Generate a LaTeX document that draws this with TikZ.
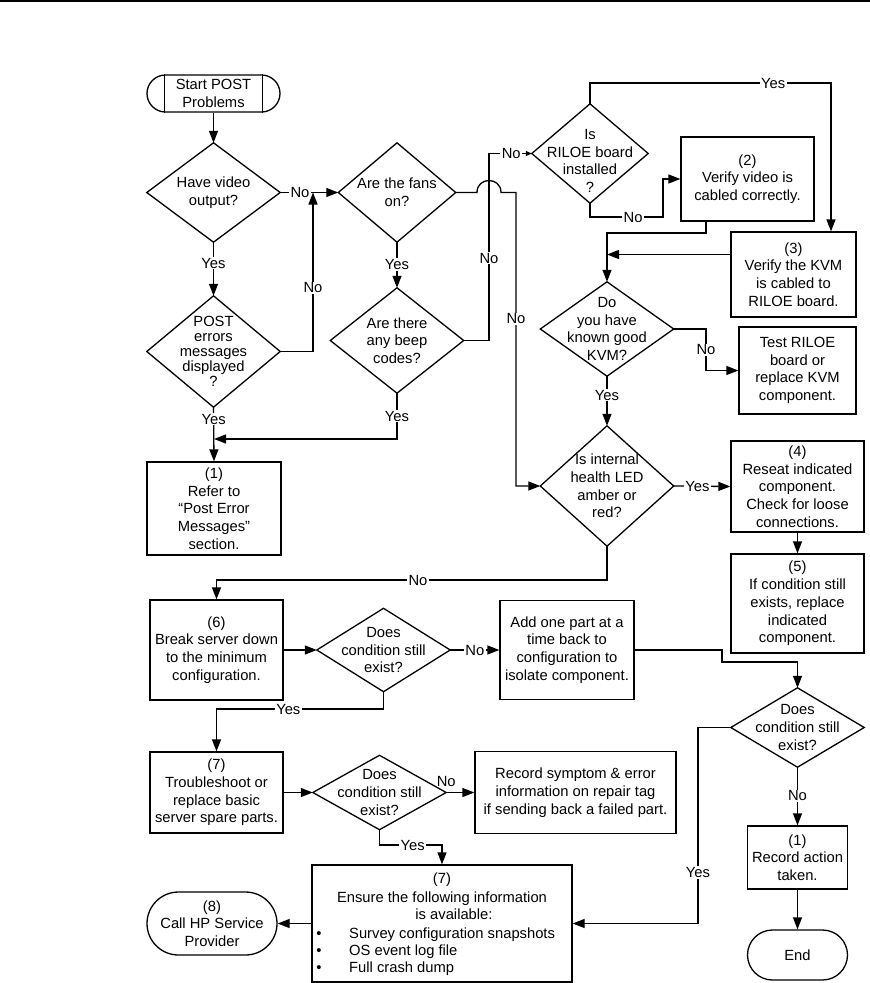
\documentclass[tikz,border=0pt]{standalone}
\usepackage{fontspec}
\setmainfont{Liberation Sans}
\usetikzlibrary{arrows.meta}
\begin{document}
\begin{tikzpicture}[x=1pt,y=-1pt,
  every node/.style={font=\fontsize{14.75}{17.7}\selectfont, inner sep=0pt, align=center},
  sz/.style 2 args={minimum width=#1pt, minimum height=#2pt},
  ln/.style={line width=1.3pt},
  arr/.style={ln, -{Triangle[length=12pt,width=9pt]}},
  arrs/.style={ln, -{Triangle[length=6pt,width=5pt]}},
  box/.style={draw, line width=1.3pt, rectangle},
  dia/.style={rectangle},
  term/.style={draw, line width=1.3pt, rectangle},
  lbl/.style={fill=white, inner xsep=1.5pt, inner ysep=1pt}
]
\useasboundingbox (0,0) rectangle (870,983);
\draw[line width=1.7pt] (0,0.85) -- (870,0.85);

% nodes
\node[term, sz={133}{37}, rounded corners=18.5pt] (start) at (213.5,93.5) {Start POST\\Problems};
\draw[ln] ([xshift=18pt]start.north west) -- ([xshift=18pt]start.south west);
\draw[ln] ([xshift=-18pt]start.north east) -- ([xshift=-18pt]start.south east);

\node[dia, sz={133}{99}] (video) at (213.5,192.5) {Have video\\output?};
\node[dia, sz={133}{111}, font=\fontsize{14.75}{15}\selectfont] (post) at (213.5,351.5) {POST\\errors\\messages\\displayed\\?};
\node[box, sz={134}{93}] (b1) at (214,508.5) {(1)\\Refer to\\“Post Error\\Messages”\\section.};
\node[dia, sz={117}{99}] (fans) at (397,192.5) {Are the fans\\on?};
\node[dia, sz={133}{105}] (beep) at (397,340.5) {Are there\\any beep\\codes?};
\node[dia, sz={116}{99}] (riloe) at (590,153.5) {};
\node (riloet) at (590,161) {Is\\RILOE board\\installed\\?};
\node[box, sz={133}{84}] (b2) at (747.5,179) {(2)\\Verify video is\\cabled correctly.};
\node[box, sz={125}{85}] (b3) at (793.5,274.5) {(3)\\Verify the KVM\\is cabled to\\RILOE board.};
\node[dia, sz={133}{94}] (kvm) at (607,329) {Do\\you have\\known good\\KVM?};
\node[box, sz={117}{87}] (test) at (797.5,370.5) {Test RILOE\\board or\\replace KVM\\component.};
\node[dia, sz={133}{120}] (health) at (607,486) {Is internal\\health LED\\amber or\\red?};
\node[box, sz={133}{91}] (b4) at (797.5,486.5) {(4)\\Reseat indicated\\component.\\Check for loose\\connections.};
\node[box, sz={133}{99}] (b5) at (797.5,603.5) {(5)\\If condition still\\exists, replace\\indicated\\component.};
\node[box, sz={133}{100}] (b6) at (216.5,650) {(6)\\Break server down\\to the minimum\\configuration.};
\node[dia, sz={133}{83}] (d1) at (383.5,650) {Does\\condition still\\exist?};
\node[box, sz={134}{99}] (add) at (567,650) {Add one part at a\\time back to\\configuration to\\isolate component.};
\node[dia, sz={133}{79}] (d2) at (797.5,727.5) {Does\\condition still\\exist?};
\node[box, sz={133}{81}] (b7) at (216.5,792.5) {(7)\\Troubleshoot or\\replace basic\\server spare parts.};
\node[dia, sz={133}{74}] (d3) at (379.5,792.5) {Does\\condition still\\exist?};
\node[box, sz={201}{82}] (rec) at (575.5,792.5) {Record symptom \& error\\information on repair tag\\if sending back a failed part.};
\node[box, sz={100}{63}] (recact) at (797.5,857.5) {(1)\\Record action\\taken.};
\node[term, sz={100}{50}, rounded corners=25pt] (end) at (797.5,955) {End};
\node[box, sz={260}{117}] (ens) at (442,923.5) {};
\node[anchor=base] (e1) at (442,883) {(7)};
\node[anchor=base] (e2) at (442,902) {Ensure the following information};
\node[anchor=base] (e3) at (454,919) {is available:};
\node[anchor=base] (e4b) at (319,938) {\textbullet};
\node[anchor=base] (e5b) at (319,955) {\textbullet};
\node[anchor=base] (e6b) at (319,972) {\textbullet};
\node[anchor=base west] (e4) at (349,938) {Survey configuration snapshots};
\node[anchor=base west] (e5) at (349,955) {OS event log file};
\node[anchor=base west] (e6) at (349,972) {Full crash dump};
\node[term, sz={130}{63}, rounded corners=31.5pt] (call) at (212,923.5) {(8)\\Call HP Service\\Provider};

\foreach \n in {video,post,fans,beep,riloe,kvm,health,d1,d2,d3}
  \draw[ln, line join=miter] (\n.north) -- (\n.east) -- (\n.south) -- (\n.west) -- cycle;

% connectors
\draw[arr] (start.south) -- (video.north);
\draw[arr] (video.east) -- node[lbl,pos=0.34]{No} (fans.west);
\coordinate (j1) at (313,192.5);
\draw[arr] (post.east) -| node[lbl,pos=0.70]{No} (j1);
\draw[arr] (video.south) -- node[lbl,pos=0.39]{Yes} (post.north);
\draw[arr] (post.south) -- node[lbl,pos=0.22]{Yes} (b1.north);
\draw[arr] (fans.south) -- node[lbl,pos=0.49]{Yes} (beep.north);
\coordinate (j2) at (214,439);
\draw[arr] (beep.south) |- node[lbl,pos=0.25]{Yes} (j2);
\draw[arrs] (beep.east) -- (489,340.5) -- node[lbl,pos=0.44]{No} (489,153.5) -- node[lbl,pos=0.52]{No} (riloe.west);
\draw[arr] (fans.east) -- (477,192.5) .. controls (477,176.5) and (501,176.5) .. (501,192.5) -- (516,192.5) -- node[lbl,pos=0.43]{No} (516,486) -- (health.west);
\coordinate (b3n) at ([xshift=37.5pt]b3.north);
\draw[arr] (riloe.north) -- (590,83) -- node[lbl,pos=0.76]{Yes} (831,83) -- (b3n);
\draw[arr] (riloe.south) -- (590,217) -- node[lbl,pos=0.59]{No} (663,217) -- (663,179) -- (b2.west);
\draw[arr] ([xshift=-41.5pt]b2.south) -- (706,233) -- (607,233) -- (kvm.north);
\coordinate (b3w) at ([yshift=20pt]b3.west);
\draw[arr] (b3w) -- (b3w -| kvm.north);
\draw[arr] (kvm.east) -- (706,329) -- node[lbl]{No} (706,370.5) -- (test.west);
\draw[arr] (kvm.south) -- node[lbl,pos=0.38]{Yes} (health.north);
\draw[arr] (health.east) -- node[lbl,pos=0.42]{Yes} (b4.west);
\draw[arr] (b4.south) -- (b5.north);
\draw[arr] (health.south) -- (607,580) -- node[lbl,pos=0.484]{No} (216.5,580) -- (b6.north);
\draw[arr] (b6.east) -- (d1.west);
\draw[arr] (d1.east) -- node[lbl]{No} (add.west);
\draw[arr] (d1.south) -- (383.5,709) -- node[lbl,pos=0.57]{Yes} (216.5,709) -- (b7.north);
\draw[arr] (add.east) -- (722,650) -- (722,662) -- (797.5,662) -- (d2.north);
\draw[arr] (d2.west) -- (698,727.5) -- node[lbl,pos=0.74]{Yes} (698,923.5) -- (ens.east);
\draw[arr] (d2.south) -- node[lbl,pos=0.49]{No} (recact.north);
\draw[arr] (recact.south) -- (end.north);
\draw[arr] (b7.east) -- (d3.west);
\draw[arr] (d3.east) -- node[pos=0, above=5pt]{No} (rec.west);
\draw[arr] (d3.south) -- (379.5,845) -- node[lbl,pos=0.53]{Yes} (442,845) -- (ens.north);
\draw[arr] (ens.west) -- (call.east);
\end{tikzpicture}
\end{document}
